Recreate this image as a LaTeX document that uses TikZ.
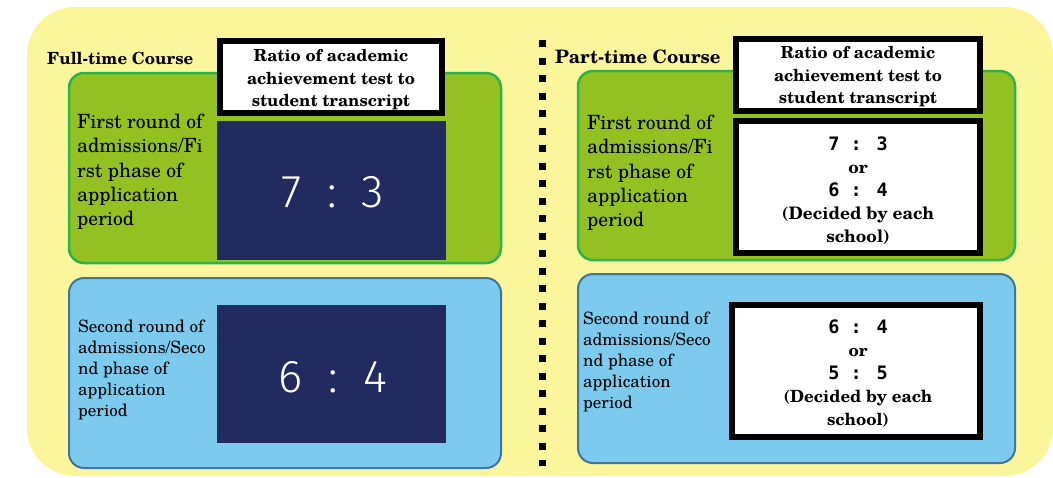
\documentclass[tikz,border=0pt]{standalone}
\usepackage{fontspec}
\setmainfont{texgyreschola}[Extension=.otf, UprightFont=*-regular, BoldFont=*-bold, ItalicFont=*-italic, BoldItalicFont=*-bolditalic]
\newfontfamily\thindigits{Fira Sans Light}
\newfontfamily\monodigits{DejaVu Sans Mono}
\newcommand{\bigratiotext}[2]{#1\hspace{0.55em}:\hspace{0.55em}#2}
\newcommand{\smallratiotext}[2]{{\monodigits\bfseries\fontsize{18.5}{23}\selectfont #1 : #2}}
\definecolor{yel}{HTML}{FBF59C}
\definecolor{grfill}{HTML}{93C122}
\definecolor{grline}{HTML}{2DB34A}
\definecolor{blfill}{HTML}{7CCBEF}
\definecolor{blline}{HTML}{3F74A3}
\definecolor{navy}{HTML}{212B5F}
\begin{document}
\begin{tikzpicture}[x=1pt,y=-1pt,
  box/.style={anchor=north west, inner sep=0pt, outer sep=0pt},
  greenbox/.style={box, fill=grfill, draw=grline, line width=2.5pt, rounded corners=15pt},
  bluebox/.style={box, fill=blfill, draw=blline, line width=2pt, rounded corners=15pt},
  navybox/.style={box, fill=navy},
  blackbox/.style={box, fill=white, draw=black, line width=6pt},
  course/.style={anchor=west, inner sep=0pt, font=\bfseries},
  headtxt/.style={align=center, font=\fontsize{16.6}{22.5}\selectfont\bfseries},
  firsttxt/.style={anchor=west, align=left, inner sep=0pt, font=\fontsize{19.6}{24.3}\selectfont},
  secondtxt/.style={anchor=west, align=left, inner sep=0pt, font=\fontsize{17}{21.1}\selectfont},
  bigratio/.style={text=white, font=\thindigits\fontsize{46}{50}\selectfont},
  choice/.style={align=center, font=\bfseries},
  sep/.style={line width=7pt, dash pattern=on 7pt off 10.5pt}]
\useasboundingbox (0,0) rectangle (1053,477);
\node[box, fill=yel, rounded corners=48pt, minimum width=1026pt, minimum height=469pt] (bg) at (27,7) {};
% separator
\coordinate (s1) at (542,40);
\coordinate (s2) at (542,466);
\draw[sep] (s1) -- (s2);
% left column
\node[course, font=\fontsize{16.7}{20}\selectfont\bfseries] (ft) at (47,58) {Full-time Course};
\node[greenbox, minimum width=432pt, minimum height=190pt] (lg) at (69,73) {};
\node[bluebox, minimum width=432pt, minimum height=190pt] (lb) at (69,278) {};
\node[navybox, minimum width=229pt, minimum height=139pt] (ln1) at (217,121) {};
\node[navybox, minimum width=229pt, minimum height=138pt] (ln2) at (217,305) {};
\node[blackbox, minimum width=222pt, minimum height=72pt] (lh) at (220,41) {};
\node[headtxt] (lht) at (331,80) {Ratio of academic\\achievement test to\\student transcript};
\node[firsttxt] (lt1) at (77,172) {First round of\\admissions/Fi\\rst phase of\\application\\period};
\node[secondtxt] (lt2) at (78,370) {Second round of\\admissions/Seco\\nd phase of\\application\\period};
\node[bigratio] (lr1) at (333,192) {\bigratiotext{7}{3}};
\node[bigratio] (lr2) at (333,377) {\bigratiotext{6}{4}};
% right column
\node[course, font=\fontsize{18.5}{22}\selectfont\bfseries] (pt) at (555,57) {Part-time Course};
\node[greenbox, minimum width=437pt, minimum height=189pt] (rg) at (578,71) {};
\node[bluebox, minimum width=437pt, minimum height=189pt] (rb) at (578,274) {};
\node[blackbox, minimum width=244pt, minimum height=72pt] (rh) at (736,39) {};
\node[headtxt] (rht) at (858,77) {Ratio of academic\\achievement test to\\student transcript};
\node[blackbox, minimum width=244pt, minimum height=132pt] (rw1) at (736,121) {};
\node[blackbox, minimum width=248pt, minimum height=132pt] (rw2) at (732,305) {};
\node[firsttxt] (rt1) at (587,173) {First round of\\admissions/Fi\\rst phase of\\application\\period};
\node[secondtxt] (rt2) at (583,362) {Second round of\\admissions/Seco\\nd phase of\\application\\period};
\node[choice, font=\fontsize{17.2}{23}\selectfont\bfseries] (rc1) at (858,191) {\smallratiotext{7}{3}\\or\\\smallratiotext{6}{4}\\(Decided by each\\school)};
\node[choice, font=\fontsize{16.8}{23}\selectfont\bfseries] (rc2) at (858,374) {\smallratiotext{6}{4}\\or\\\smallratiotext{5}{5}\\(Decided by each\\school)};
\end{tikzpicture}
\end{document}
